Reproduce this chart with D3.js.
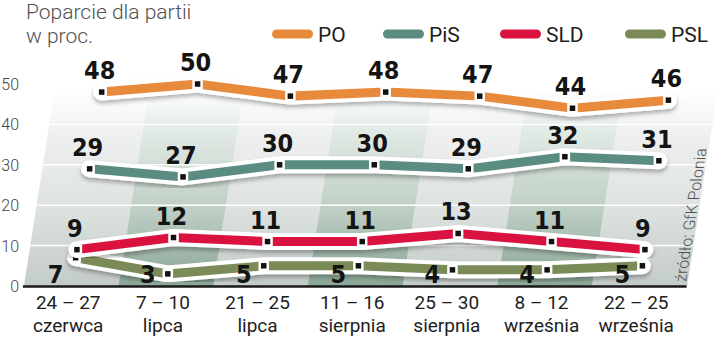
<!DOCTYPE html>
<html>
<head>
<meta charset="utf-8">
<script src="https://cdn.jsdelivr.net/npm/d3@7"></script>
<style>
  body { margin: 0; background: #fff; }
  svg { display: block; }
</style>
</head>
<body>
<div class="chart"></div>
<script>
// dane
const categories = ["24 – 27|czerwca", "7 – 10|lipca", "21 – 25|lipca", "11 – 16|sierpnia",
                    "25 – 30|sierpnia", "8 – 12|września", "22 – 25|września"];
const seriesNames = ["PO", "PiS", "SLD", "PSL"];
const poValues  = [48, 50, 47, 48, 47, 44, 46];
const pisValues = [29, 27, 30, 30, 29, 32, 31];
const sldValues = [9, 12, 11, 11, 13, 11, 9];
const pslValues = [7, 3, 5, 5, 4, 4, 5];
const yTicks = [0, 10, 20, 30, 40, 50];
const gridTicks = [10, 20, 30, 40];

const width = 720, height = 337;
const colors = { PO: "#e88a3c", PiS: "#5b8c82", SLD: "#d9123f", PSL: "#7b8b58" };
const series = [
  { name: "PSL", values: pslValues },
  { name: "SLD", values: sldValues },
  { name: "PiS", values: pisValues },
  { name: "PO",  values: poValues }
];

const svg = d3.select(".chart").append("svg")
  .attr("width", width).attr("height", height);

const x = d3.scalePoint().domain(categories).range([102, 670]);
const y = d3.scaleLinear().domain([0, 50]).range([286, 84]);
const step = x.step();
const yRef = 90, k = 0.157;
const skew = (xx, yy) => xx - (yy - yRef) * k;
const yTop = 92, yBot = y(0);

const defs = svg.append("defs");
function grad(id, stops) {
  const g = defs.append("linearGradient").attr("id", id)
    .attr("gradientUnits", "userSpaceOnUse")
    .attr("x1", 0).attr("x2", 0).attr("y1", yTop).attr("y2", yBot);
  stops.forEach(s => g.append("stop").attr("offset", s[0]).attr("stop-color", s[1]));
}
grad("gLight", [[0, "#ffffff"], [0.2, "#eff1f0"], [0.6, "#dde2e0"], [1, "#c3cbc9"]]);
grad("gDark",  [[0, "#ffffff"], [0.2, "#e2eae5"], [0.6, "#bfcfc5"], [1, "#8aa695"]]);

const f = defs.append("filter").attr("id", "shadow")
  .attr("x", "-10%").attr("y", "-50%").attr("width", "120%").attr("height", "200%");
f.append("feDropShadow").attr("dx", 0).attr("dy", 3).attr("stdDeviation", 2)
  .attr("flood-color", "#000").attr("flood-opacity", 0.3);

// tło - kolumny w perspektywie
svg.append("g").selectAll("path")
  .data(categories)
  .join("path")
  .attr("fill", (d, i) => i % 2 ? "url(#gDark)" : "url(#gLight)")
  .attr("d", d => {
    const l = x(d) - step / 2, r = x(d) + step / 2 + 0.5;
    return `M${skew(l, yTop)},${yTop}L${skew(r, yTop)},${yTop}L${skew(r, yBot)},${yBot}L${skew(l, yBot)},${yBot}Z`;
  });

// linie siatki
const x0 = x(categories[0]) - step / 2, x1 = x(categories[categories.length - 1]) + step / 2;
svg.append("g").selectAll("line")
  .data(gridTicks)
  .join("line")
  .attr("x1", d => skew(x0, y(d))).attr("x2", d => skew(x1, y(d)))
  .attr("y1", d => y(d)).attr("y2", d => y(d))
  .attr("stroke", "#fff").attr("stroke-width", 1.5);

svg.append("line")
  .attr("x1", skew(x0, yBot) - 1).attr("x2", skew(x1, yBot))
  .attr("y1", yBot + 0.5).attr("y2", yBot + 0.5)
  .attr("stroke", "#1a1a1a").attr("stroke-width", 2.5);

// oś Y
svg.append("g").selectAll("text")
  .data(yTicks)
  .join("text")
  .attr("x", 19).attr("y", d => y(d) + 6)
  .attr("text-anchor", "end")
  .attr("font-family", "Roboto").attr("font-weight", 300)
  .attr("font-size", 16).attr("fill", "#444")
  .text(d => d);

// oś X
const xl = svg.append("g").selectAll("text")
  .data(categories)
  .join("text")
  .attr("text-anchor", "middle")
  .attr("font-family", "Roboto").attr("font-size", 19).attr("fill", "#1e1e1e");
xl.append("tspan").attr("x", d => skew(x(d), yBot) - 3).attr("y", 309).text(d => d.split("|")[0]);
xl.append("tspan").attr("x", d => skew(x(d), yBot) - 3).attr("y", 332).text(d => d.split("|")[1]);

// serie
const pts = s => s.values.map((v, i) => [skew(x(categories[i]), y(v)), y(v)]);
const line = d3.line();

series.forEach(s => {
  const p = pts(s);
  const g = svg.append("g");
  g.append("path").attr("d", line(p))
    .attr("fill", "none").attr("stroke", "#fff").attr("stroke-width", 17)
    .attr("stroke-linecap", "round").attr("stroke-linejoin", "round")
    .attr("filter", "url(#shadow)");
  g.append("path").attr("d", line(p))
    .attr("fill", "none").attr("stroke", colors[s.name]).attr("stroke-width", 9)
    .attr("stroke-linejoin", "miter");
  g.selectAll("rect").data(p).join("rect")
    .attr("x", d => d[0] - 4).attr("y", d => d[1] - 4)
    .attr("width", 8).attr("height", 8)
    .attr("fill", "#111").attr("stroke", "#fff").attr("stroke-width", 2.5);
});

// etykiety wartości
series.forEach(s => {
  const p = pts(s);
  svg.append("g").selectAll("text")
    .data(s.values)
    .join("text")
    .attr("x", (d, i) => s.name === "PSL" ? p[i][0] - 20 : p[i][0] - 2)
    .attr("y", (d, i) => s.name === "PSL" ? yBot - 3 : p[i][1] - 13)
    .attr("text-anchor", "middle")
    .attr("font-family", "'Liberation Sans Narrow', 'DejaVu Sans Condensed', sans-serif")
    .attr("font-weight", "bold").attr("font-size", 25).attr("fill", "#141414")
    .text(d => d);
});

// legenda
const legendX = [272, 383, 500, 625];
const lg = svg.append("g").selectAll("g")
  .data(seriesNames)
  .join("g")
  .attr("transform", (d, i) => `translate(${legendX[i]},34)`);
lg.append("line").attr("x1", 4.5).attr("x2", 36.5)
  .attr("stroke", d => colors[d]).attr("stroke-width", 9).attr("stroke-linecap", "round");
lg.append("text").attr("x", 46).attr("y", 8)
  .attr("font-family", "Roboto").attr("font-size", 21).attr("fill", "#1e1e1e")
  .text(d => d);

// tytuł
const title = svg.append("text")
  .attr("font-family", "Roboto").attr("font-weight", 300)
  .attr("font-size", 21).attr("fill", "#505050");
title.append("tspan").attr("x", 26).attr("y", 19).text("Poparcie dla partii");
title.append("tspan").attr("x", 26).attr("y", 43).text("w proc.");

// źródło
svg.append("g")
  .attr("transform", `matrix(1,0,${-k},1,${k * yRef},0)`)
  .append("text")
  .attr("transform", `translate(716,215) rotate(-90)`)
  .attr("text-anchor", "middle")
  .attr("font-family", "Roboto").attr("font-weight", 300)
  .attr("font-size", 16).attr("fill", "#505050")
  .text("źródło: GfK Polonia");
</script>
</body>
</html>
